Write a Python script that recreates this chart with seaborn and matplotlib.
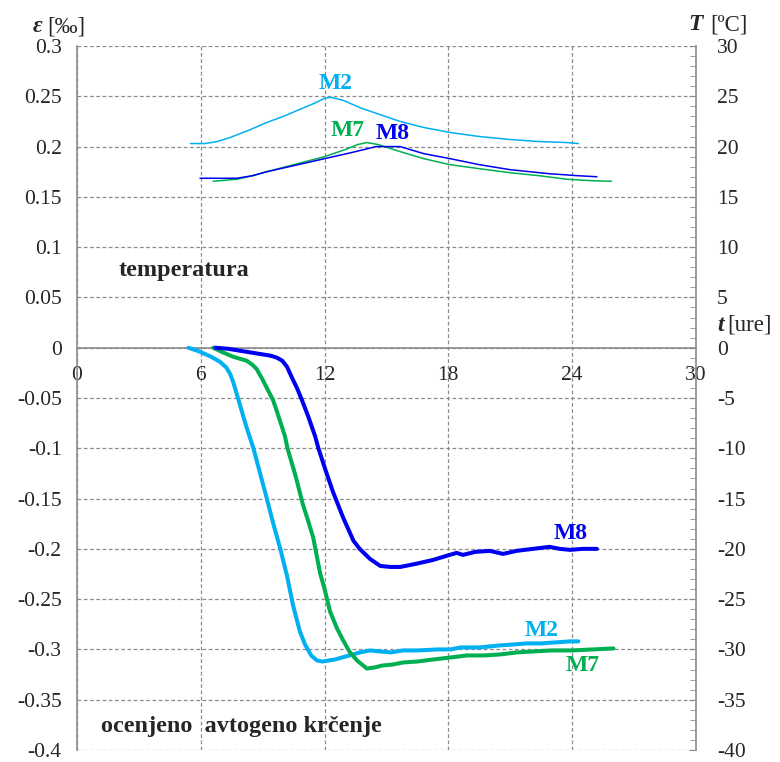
import numpy as np
import pandas as pd
import matplotlib
matplotlib.use("Agg")
import matplotlib.pyplot as plt
import seaborn as sns
from matplotlib.ticker import FixedLocator, FixedFormatter

sns.set_style("white")
plt.rcParams["font.family"] = ["Liberation Serif", "DejaVu Serif"]
plt.rcParams["axes.unicode_minus"] = False

# ---- estimated autogenous shrinkage, eps [permille] vs time [h] ----
m2_t = [5.4, 5.96, 6.5, 6.93, 7.25, 7.42, 7.57, 7.8, 8.2, 8.55, 8.9, 9.2, 9.5, 9.84,
        10.18, 10.47, 10.8, 11.05, 11.35, 11.63, 11.9, 12.5, 13.2, 13.7, 14.2, 14.7,
        15.2, 15.8, 16.5, 17.5, 18.1, 18.6, 19.5, 20.5, 21.2, 21.8, 22.5, 23.2, 23.9, 24.3]
m2_eps = [0.000, -0.004, -0.009, -0.014, -0.020, -0.026, -0.034, -0.050, -0.078, -0.100,
          -0.127, -0.150, -0.174, -0.199, -0.227, -0.256, -0.282, -0.295, -0.306, -0.311,
          -0.312, -0.310, -0.306, -0.303, -0.301, -0.302, -0.303, -0.301, -0.301, -0.300,
          -0.300, -0.298, -0.298, -0.296, -0.295, -0.294, -0.294, -0.293, -0.292, -0.292]

m7_t = [6.6, 7.0, 7.57, 8.23, 8.5, 8.7, 8.95, 9.2, 9.5, 9.7, 10.08, 10.2, 10.6, 10.95,
        11.2, 11.45, 11.78, 12.0, 12.26, 12.6, 12.9, 13.2, 13.57, 14.05, 14.4, 14.8, 15.3,
        15.8, 16.5, 17.26, 18.1, 18.9, 19.7, 20.5, 21.3, 22.1, 23.0, 24.0, 25.0, 26.0]
m7_eps = [0.000, -0.004, -0.009, -0.013, -0.017, -0.021, -0.030, -0.040, -0.052, -0.064,
          -0.088, -0.100, -0.128, -0.156, -0.172, -0.189, -0.224, -0.240, -0.262, -0.279,
          -0.291, -0.302, -0.311, -0.319, -0.318, -0.316, -0.315, -0.313, -0.312, -0.310,
          -0.308, -0.306, -0.306, -0.305, -0.303, -0.302, -0.301, -0.301, -0.300, -0.299]

m8_t = [6.7, 7.3, 7.9, 8.8, 9.4, 9.7, 9.95, 10.18, 10.4, 10.66, 10.9, 11.2, 11.54, 11.7,
        12.05, 12.4, 12.9, 13.4, 13.7, 14.2, 14.7, 15.2, 15.66, 16.4, 17.26, 17.9, 18.4,
        18.7, 19.3, 20.0, 20.65, 21.3, 22.1, 22.9, 23.4, 23.9, 24.5, 25.2]
m8_eps = [0.000, -0.001, -0.003, -0.006, -0.008, -0.010, -0.013, -0.019, -0.029, -0.040,
          -0.052, -0.068, -0.088, -0.100, -0.122, -0.143, -0.169, -0.192, -0.200, -0.210,
          -0.217, -0.218, -0.218, -0.215, -0.211, -0.207, -0.204, -0.206, -0.203, -0.202,
          -0.205, -0.202, -0.200, -0.198, -0.200, -0.201, -0.200, -0.200]

# ---- temperature T [degC] vs time [h] ----
m2_tT = [5.5, 6.2, 6.8, 7.42, 8.3, 9.2, 10.0, 10.8, 11.5, 12.0, 12.3, 12.9, 13.8, 14.8,
         15.66, 16.8, 18.08, 19.5, 21.0, 22.4, 23.75, 24.3]
m2_T = [20.3, 20.3, 20.5, 20.9, 21.6, 22.4, 23.0, 23.7, 24.3, 24.8, 24.9, 24.6, 23.8, 23.1,
        22.5, 21.9, 21.4, 21.0, 20.7, 20.5, 20.4, 20.3]

m7_tT = [6.6, 7.75, 8.5, 9.2, 10.5, 12.0, 13.0, 13.6, 14.05, 14.6, 15.66, 16.8, 18.08,
         19.5, 21.0, 22.4, 23.75, 25.0, 25.9]
m7_T = [16.55, 16.75, 17.1, 17.5, 18.2, 19.0, 19.7, 20.2, 20.4, 20.2, 19.5, 18.8, 18.2,
        17.8, 17.4, 17.1, 16.75, 16.6, 16.55]

m8_tT = [5.96, 7.75, 8.5, 9.2, 10.5, 12.0, 13.3, 14.5, 15.2, 15.66, 16.8, 18.08, 19.5,
         21.0, 22.9, 24.3, 25.2]
m8_T = [16.85, 16.85, 17.1, 17.5, 18.1, 18.8, 19.4, 20.0, 20.0, 20.0, 19.3, 18.8, 18.2,
        17.7, 17.3, 17.1, 17.0]

x_ticks = [0, 6, 12, 18, 24, 30]
eps_ticks = [0.3, 0.25, 0.2, 0.15, 0.1, 0.05, 0, -0.05, -0.1, -0.15, -0.2, -0.25, -0.3, -0.35, -0.4]
eps_labels = ["0.3", "0.25", "0.2", "0.15", "0.1", "0.05", "0", "-0.05", "-0.1", "-0.15",
              "-0.2", "-0.25", "-0.3", "-0.35", "-0.4"]
T_ticks = [30, 25, 20, 15, 10, 5, 0, -5, -10, -15, -20, -25, -30, -35, -40]
T_labels = [str(v) for v in T_ticks]

C_M2 = "#00B0F0"
C_M7 = "#00B050"
C_M8 = "#0000F0"
GRID = "#8c8c8c"
SPINE = "#8c8c8c"

strain = pd.concat([
    pd.DataFrame({"t": m2_t, "eps": m2_eps, "mix": "M2"}),
    pd.DataFrame({"t": m7_t, "eps": m7_eps, "mix": "M7"}),
    pd.DataFrame({"t": m8_t, "eps": m8_eps, "mix": "M8"}),
], ignore_index=True)
temp = pd.concat([
    pd.DataFrame({"t": m2_tT, "T": m2_T, "mix": "M2"}),
    pd.DataFrame({"t": m7_tT, "T": m7_T, "mix": "M7"}),
    pd.DataFrame({"t": m8_tT, "T": m8_T, "mix": "M8"}),
], ignore_index=True)
palette = {"M2": C_M2, "M7": C_M7, "M8": C_M8}

fig = plt.figure(figsize=(7.8, 7.62), dpi=100)
# axes box: x from 77 px to 696 px, y from 46 px to 750 px
ax = fig.add_axes([77 / 780, 1 - 750 / 762, (696 - 77) / 780, (750 - 46) / 762])
ax2 = ax.twinx()

sns.lineplot(data=strain, x="t", y="eps", hue="mix", palette=palette, sort=False,
             estimator=None, linewidth=2.9, legend=False, ax=ax, zorder=3)
sns.lineplot(data=temp, x="t", y="T", hue="mix", palette=palette, sort=False,
             estimator=None, linewidth=1.1, legend=False, ax=ax2, zorder=3)

ax.set_xlim(0, 30)
ax.set_ylim(-0.4, 0.3)
ax2.set_ylim(-40, 30)
ax.set_xlabel("")
ax.set_ylabel("")
ax2.set_ylabel("")

# grid
ax.xaxis.set_major_locator(FixedLocator(x_ticks))
ax.set_xticklabels([str(v) for v in x_ticks])
ax.yaxis.set_major_locator(FixedLocator(eps_ticks))
ax.yaxis.set_major_formatter(FixedFormatter(eps_labels))
ax.grid(True, which="major", color=GRID, linestyle=(0, (3, 2)), linewidth=0.9)
ax.set_axisbelow(True)

# spines
for s in ["top", "right"]:
    ax.spines[s].set_visible(False)
ax.spines["bottom"].set_position(("data", 0))
ax.spines["bottom"].set_color(SPINE)
ax.spines["left"].set_color(SPINE)
ax.spines["bottom"].set_linewidth(1.2)
ax.spines["left"].set_linewidth(1.2)
for s in ["top", "left", "bottom"]:
    ax2.spines[s].set_visible(False)
ax2.spines["right"].set_color(SPINE)
ax2.spines["right"].set_linewidth(1.2)

# ticks
ax.tick_params(axis="x", which="major", length=0, pad=13, labelsize=15.5)
ax.xaxis.set_minor_locator(FixedLocator(list(np.arange(1, 11) * 2.79)))
ax.tick_params(axis="x", which="minor", direction="in", length=4, color=SPINE, width=1)
ax.tick_params(axis="y", which="major", length=0, pad=11, labelsize=15.5)

ax2.yaxis.set_major_locator(FixedLocator(T_ticks))
ax2.yaxis.set_major_formatter(FixedFormatter(T_labels))
ax2.yaxis.set_minor_locator(FixedLocator(list(range(-40, 31))))
ax2.tick_params(axis="y", which="major", direction="in", length=5, color=SPINE,
                pad=15, labelsize=15.5)
ax2.tick_params(axis="y", which="minor", direction="in", length=4, color=SPINE)

# axis titles
fig.text(42 / 780, 1 - 27 / 762, "ε", ha="right", va="center", fontsize=17,
         fontweight="bold", fontstyle="italic")
fig.text(47 / 780, 1 - 27 / 762, "[‰]", ha="left", va="center", fontsize=16.5)
fig.text(703 / 780, 1 - 25 / 762, "T", ha="right", va="center", fontsize=17,
         fontweight="bold", fontstyle="italic")
fig.text(710 / 780, 1 - 25 / 762, "[ºC]", ha="left", va="center", fontsize=16.5)
fig.text(724 / 780, 1 - 325 / 762, "t", ha="right", va="center", fontsize=17,
         fontweight="bold", fontstyle="italic")
fig.text(727 / 780, 1 - 325 / 762, "[ure]", ha="left", va="center", fontsize=16.5)

# series labels
lab = dict(ha="center", va="center", fontsize=17, fontweight="bold")
ax2.text(12.55, 26.3, "M2", color=C_M2, **lab)
ax2.text(13.1, 21.6, "M7", color=C_M7, **lab)
ax2.text(15.3, 21.3, "M8", color=C_M8, **lab)
ax.text(23.9, -0.185, "M8", color=C_M8, **lab)
ax.text(22.5, -0.281, "M2", color=C_M2, **lab)
ax.text(24.5, -0.316, "M7", color=C_M7, **lab)

ax.text(5.2, 0.077, "temperatura", ha="center", va="center", fontsize=17.5, fontweight="bold")
ax.text(7.96, -0.377, "ocenjeno  avtogeno krčenje", ha="center", va="center",
        fontsize=17.5, fontweight="bold")

fig.savefig("out.png", dpi=100)
